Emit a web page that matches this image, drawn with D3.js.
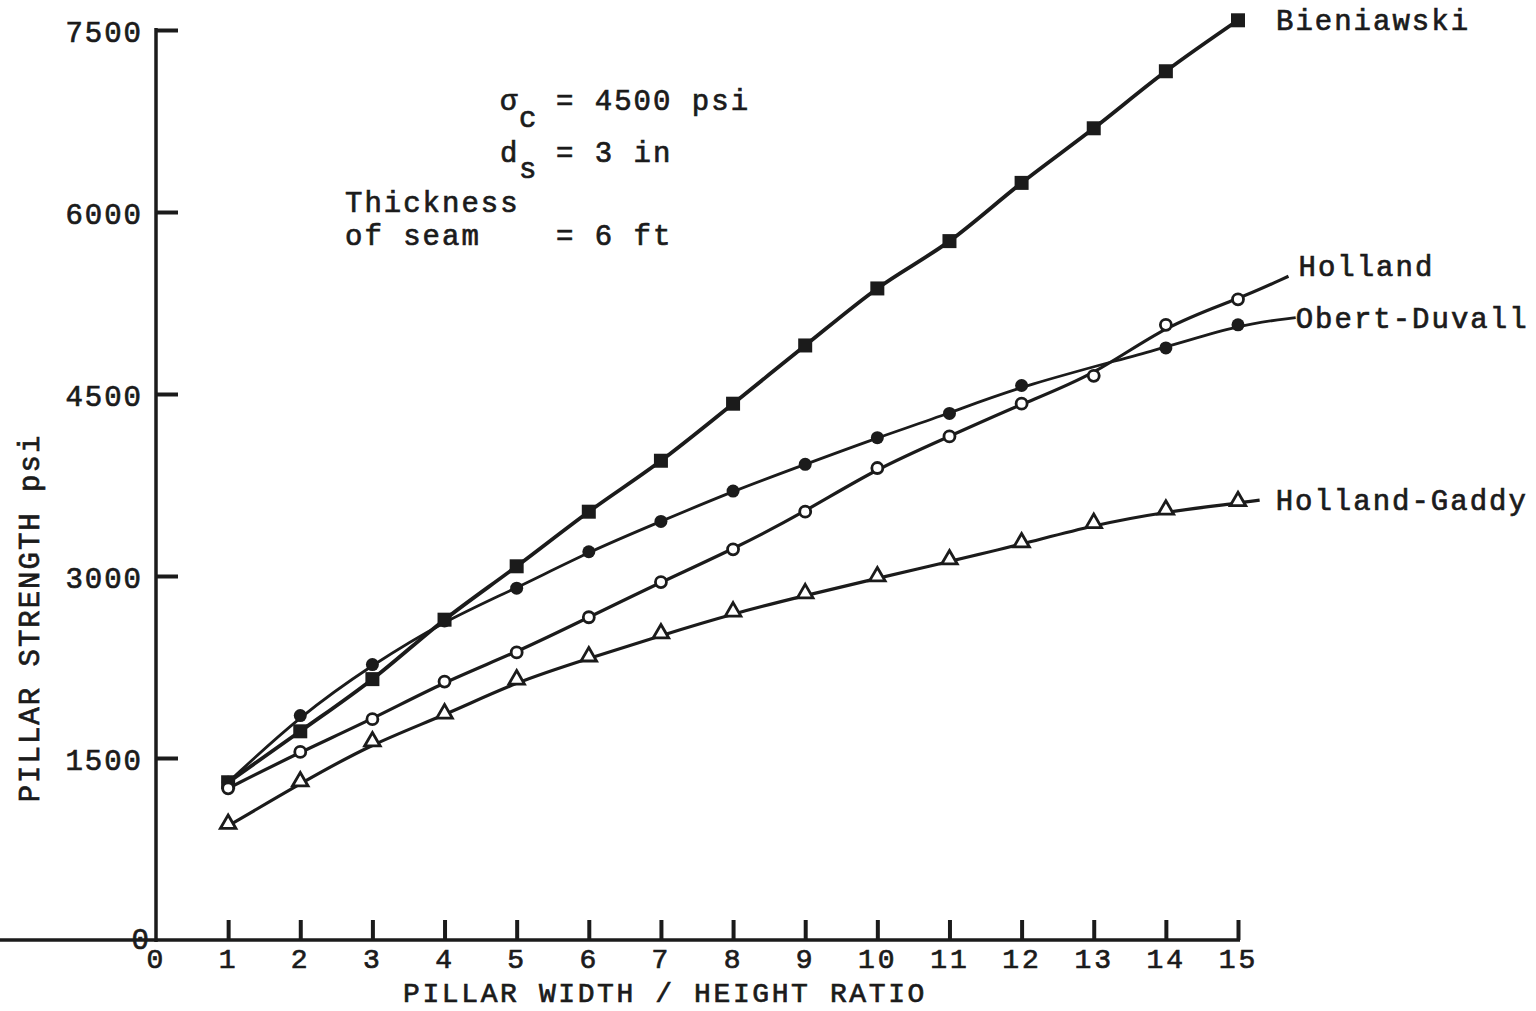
<!DOCTYPE html>
<html>
<head>
<meta charset="utf-8">
<script src="https://cdn.jsdelivr.net/npm/d3@7"></script>
<style>
  html, body { margin: 0; padding: 0; background: #ffffff; }
  svg { display: block; }
  text { font-family: "Liberation Mono", "DejaVu Sans Mono", monospace; fill: #1b1b1b; stroke: #1b1b1b; stroke-width: 0.7px; }
</style>
</head>
<body>
<svg id="chart" width="1536" height="1011"></svg>
<script>
// ---- data ----
const ratio = [1, 2, 3, 4, 5, 6, 7, 8, 9, 10, 11, 12, 13, 14, 15];
const bieniawski  = [1300, 1720, 2150, 2640, 3080, 3530, 3950, 4420, 4900, 5370, 5760, 6240, 6690, 7160, 7580];
const holland     = [1250, 1550, 1820, 2130, 2370, 2660, 2950, 3220, 3530, 3890, 4150, 4420, 4650, 5070, 5280];
const obertDuvall = [1300, 1850, 2270, 2630, 2900, 3200, 3450, 3700, 3920, 4140, 4340, 4570, null, 4880, 5070];
const hollandGaddy = [940, 1290, 1620, 1850, 2130, 2320, 2510, 2690, 2840, 2980, 3120, 3260, 3420, 3530, 3600];
// curve extension beyond the last plotted point (ratio, psi)
const hollandTail = [15.7, 5470];
const obertTail = [15.8, 5130];
const gaddyTail = [15.3, 3625];
const xTickValues = [0, 1, 2, 3, 4, 5, 6, 7, 8, 9, 10, 11, 12, 13, 14, 15];
const yTickValues = [0, 1500, 3000, 4500, 6000, 7500];
const seriesNames = ["Bieniawski", "Holland", "Obert-Duvall", "Holland-Gaddy"];

const ink = "#1b1b1b";
const svg = d3.select("#chart");
const x = d3.scaleLinear().domain([0, 15]).range([156, 1238]);
const y = d3.scaleLinear().domain([0, 7500]).range([940, 30]);

// ---- axes ----
const fontSize = 29;
const xFont = 28;
const gx = svg.append("g").attr("transform", `translate(0,${y(0)})`)
  .call(d3.axisBottom(x).tickValues(xTickValues).tickSize(-20).tickSizeOuter(0).tickPadding(8)
        .tickFormat(d3.format("d")));
const gy = svg.append("g").attr("transform", `translate(${x(0)},0)`)
  .call(d3.axisLeft(y).tickValues(yTickValues).tickSize(-22).tickSizeOuter(0).tickPadding(13)
        .tickFormat(d3.format("d")));
[gx, gy].forEach(g => {
  g.attr("font-family", null).attr("font-size", null);
  g.select(".domain").attr("stroke", ink).attr("stroke-width", 3.5);
  g.selectAll(".tick line").attr("stroke", ink).attr("stroke-width", 4);
  g.selectAll(".tick text").attr("fill", ink).style("font-size", fontSize + "px").style("letter-spacing", "2px");
});
gx.selectAll(".tick text").style("font-size", xFont + "px").style("letter-spacing", "3px");
gx.selectAll(".tick line").filter(d => d === 0).remove();
gy.selectAll(".tick line").filter(d => d === 0).remove();
gx.selectAll(".tick text").attr("dy", "0.72em");
gx.selectAll(".tick text").filter(d => d === 0).attr("text-anchor", "start").attr("dx", "-10");
gy.selectAll(".tick text").attr("dy", "0.38em");
gy.selectAll(".tick text").filter(d => d === 0).attr("dy", "0.3em").attr("dx", "8");
gy.select(".domain").attr("d", `M0,${y(7500) - 2}V${y(0) + 2}`);
gx.select(".domain").attr("d", `M0,0H${x(15) + 2}`);

// axis titles
svg.append("text")
  .attr("x", 665).attr("y", 1002)
  .attr("text-anchor", "middle").style("font-size", xFont + "px").style("letter-spacing", "2.6px")
  .text("PILLAR WIDTH / HEIGHT RATIO");
svg.append("text")
  .attr("transform", `translate(39,${618}) rotate(-90)`)
  .attr("text-anchor", "middle").style("font-size", fontSize + "px").style("letter-spacing", "2px")
  .text("PILLAR STRENGTH psi");

// ---- lines ----
const toPts = (vals, tail) => {
  const pts = ratio.map((r, i) => [r, vals[i]]).filter(p => p[1] != null);
  if (tail) pts.push(tail);
  return pts;
};
const line = d3.line().x(d => x(d[0])).y(d => y(d[1])).curve(d3.curveBasis);
const lineLin = d3.line().x(d => x(d[0])).y(d => y(d[1])).curve(d3.curveMonotoneX);

svg.append("path").attr("d", lineLin(toPts(bieniawski))).attr("fill", "none").attr("stroke", ink).attr("stroke-width", 3.8);
svg.append("path").attr("d", line(toPts(holland, hollandTail))).attr("fill", "none").attr("stroke", ink).attr("stroke-width", 3.2);
svg.append("path").attr("d", line(toPts(obertDuvall, obertTail))).attr("fill", "none").attr("stroke", ink).attr("stroke-width", 2.8);
svg.append("path").attr("d", line(toPts(hollandGaddy, gaddyTail))).attr("fill", "none").attr("stroke", ink).attr("stroke-width", 3.2);

// ---- markers ----
const mk = (vals) => ratio.map((r, i) => [r, vals[i]]).filter(p => p[1] != null);
svg.append("g").selectAll("rect").data(mk(bieniawski)).join("rect")
  .attr("x", d => x(d[0]) - 7).attr("y", d => y(d[1]) - 7).attr("width", 14).attr("height", 14).attr("fill", ink);
svg.append("g").selectAll("circle").data(mk(obertDuvall)).join("circle")
  .attr("cx", d => x(d[0])).attr("cy", d => y(d[1])).attr("r", 6.5).attr("fill", ink);
svg.append("g").selectAll("circle").data(mk(holland)).join("circle")
  .attr("cx", d => x(d[0])).attr("cy", d => y(d[1])).attr("r", 5.5).attr("fill", "#fff").attr("stroke", ink).attr("stroke-width", 2.8);
const tri = d3.symbol().type(d3.symbolTriangle).size(105);
svg.append("g").selectAll("path").data(mk(hollandGaddy)).join("path")
  .attr("transform", d => `translate(${x(d[0])},${y(d[1]) - 2})`).attr("d", tri)
  .attr("fill", "#fff").attr("stroke", ink).attr("stroke-width", 2.8);

// ---- series labels ----
const lblStyle = sel => sel.style("font-size", fontSize + "px").style("letter-spacing", "2px");
svg.append("text").attr("x", x(15) + 38).attr("y", y(bieniawski[14]) + 10).call(lblStyle).text(seriesNames[0]);
svg.append("text").attr("x", x(hollandTail[0]) + 10).attr("y", y(hollandTail[1]) + 0).call(lblStyle).text(seriesNames[1]);
svg.append("text").attr("x", x(obertTail[0]) + 0).attr("y", y(obertTail[1]) + 10).call(lblStyle).text(seriesNames[2]);
svg.append("text").attr("x", x(gaddyTail[0]) + 16).attr("y", y(gaddyTail[1]) + 10).call(lblStyle).text(seriesNames[3]);

// ---- annotation ----
const ann = svg.append("g").style("font-size", fontSize + "px").style("letter-spacing", "2px");
ann.append("text").attr("x", 500).attr("y", 110).text("σ");
ann.append("text").attr("x", 519).attr("y", 127).text("c");
ann.append("text").attr("x", 556).attr("y", 110).text("= 4500 psi");
ann.append("text").attr("x", 500).attr("y", 162).text("d");
ann.append("text").attr("x", 519).attr("y", 178).text("s");
ann.append("text").attr("x", 556).attr("y", 162).text("= 3 in");
ann.append("text").attr("x", 345).attr("y", 212).text("Thickness");
ann.append("text").attr("x", 345).attr("y", 245).text("of seam");
ann.append("text").attr("x", 556).attr("y", 245).text("= 6 ft");
</script>
</body>
</html>
